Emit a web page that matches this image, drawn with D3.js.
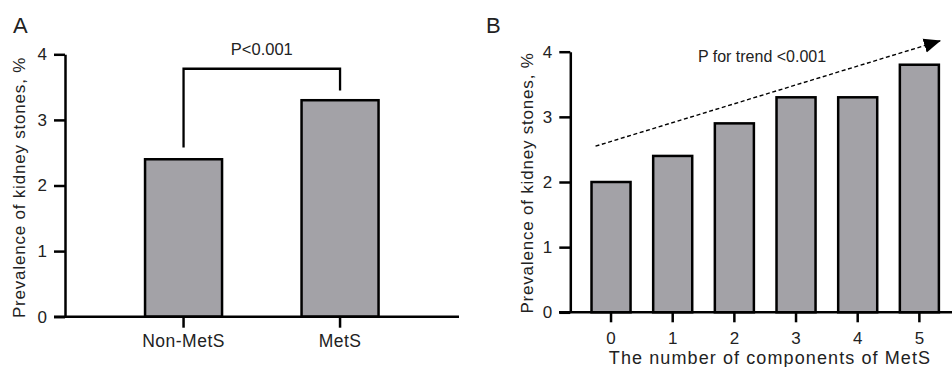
<!DOCTYPE html>
<html>
<head>
<meta charset="utf-8">
<script src="https://cdn.jsdelivr.net/npm/d3@7"></script>
<style>
  body { margin: 0; background: #fff; }
  svg text { font-family: "Liberation Sans", Arial, sans-serif; fill: #222; }
</style>
</head>
<body>
<svg id="chart" width="952" height="367"></svg>
<script>
// panel A
var groupsA = ["Non-MetS", "MetS"];
var valuesA = [2.4, 3.3];
// panel B
var groupsB = ["0", "1", "2", "3", "4", "5"];
var valuesB = [2.0, 2.4, 2.9, 3.3, 3.3, 3.8];
var yTicks = [0, 1, 2, 3, 4];

var yTitle = "Prevalence of kidney stones, %";
var xTitleB = "The number of components of MetS";
var pTextA = "P<0.001";
var pTextB = "P for trend <0.001";
// bracket heights (in % units)
var bracketA = { left: 2.58, right: 3.45, top: 3.78 };
// trend arrow (in % units)
var trendB = { from: 2.55, to: 4.17 };

var svg = d3.select("#chart");
var barFill = "#a3a2a7";
var lw = 2.5;

function styleAxis(g, size) {
  g.selectAll("path, line").attr("stroke", "#000").attr("stroke-width", lw);
  g.selectAll("text").style("font-size", size + "px").attr("fill", "#222")
    .style("font-family", "Liberation Sans, Arial, sans-serif");
}

// ---------- panel A ----------
var yA = d3.scaleLinear().domain([0, 4]).range([316.7, 54.3]);
var xA = d3.scaleBand().domain(groupsA).range([105.3, 418.3])
  .paddingInner(0.508).paddingOuter(0.254);

var gA = svg.append("g");

gA.selectAll("rect.bar")
  .data(valuesA)
  .enter().append("rect")
  .attr("class", "bar")
  .attr("x", function(d, i) { return xA(groupsA[i]); })
  .attr("y", function(d) { return yA(d); })
  .attr("width", xA.bandwidth())
  .attr("height", function(d) { return yA(0) - yA(d); })
  .attr("fill", barFill)
  .attr("stroke", "#000")
  .attr("stroke-width", lw);

var yAxisA = gA.append("g")
  .attr("transform", "translate(65,0)")
  .call(d3.axisLeft(yA).tickValues(yTicks).tickFormat(d3.format("d"))
    .tickSize(11).tickSizeOuter(0).tickPadding(7));
styleAxis(yAxisA, 17);

var xAxisA = gA.append("g")
  .attr("transform", "translate(0," + yA(0) + ")")
  .call(d3.axisBottom(xA).tickSize(11).tickSizeOuter(0).tickPadding(7));
xAxisA.select(".domain").remove();
styleAxis(xAxisA, 17.5);
xAxisA.selectAll("text").style("letter-spacing", "0.5px");

gA.append("line")
  .attr("x1", 54).attr("x2", 459)
  .attr("y1", yA(0)).attr("y2", yA(0))
  .attr("stroke", "#000").attr("stroke-width", lw);

// significance bracket
var cA = groupsA.map(function(g) { return xA(g) + xA.bandwidth() / 2; });
gA.append("path")
  .attr("d", "M" + cA[0] + "," + yA(bracketA.left) +
             "V" + yA(bracketA.top) +
             "H" + cA[1] +
             "V" + yA(bracketA.right))
  .attr("fill", "none").attr("stroke", "#000").attr("stroke-width", 2.3);

gA.append("text")
  .attr("x", (cA[0] + cA[1]) / 2).attr("y", 55)
  .attr("text-anchor", "middle")
  .style("font-size", "16.5px")
  .text(pTextA);

gA.append("text")
  .attr("transform", "translate(25,187.5) rotate(-90)")
  .attr("text-anchor", "middle")
  .style("font-size", "17px").style("letter-spacing", "0.8px")
  .text(yTitle);

gA.append("text")
  .attr("x", 13).attr("y", 33)
  .style("font-size", "22px")
  .text("A");

// ---------- panel B ----------
var yB = d3.scaleLinear().domain([0, 4]).range([312.3, 51.7]);
var xB = d3.scaleBand().domain(groupsB).range([580.2, 950.2])
  .paddingInner(0.367).paddingOuter(0.1835);

var gB = svg.append("g");

gB.selectAll("rect.bar")
  .data(valuesB)
  .enter().append("rect")
  .attr("class", "bar")
  .attr("x", function(d, i) { return xB(groupsB[i]); })
  .attr("y", function(d) { return yB(d); })
  .attr("width", xB.bandwidth())
  .attr("height", function(d) { return yB(0) - yB(d); })
  .attr("fill", barFill)
  .attr("stroke", "#000")
  .attr("stroke-width", lw);

var yAxisB = gB.append("g")
  .attr("transform", "translate(570.3,0)")
  .call(d3.axisLeft(yB).tickValues(yTicks).tickFormat(d3.format("d"))
    .tickSize(11).tickSizeOuter(0).tickPadding(7));
styleAxis(yAxisB, 17);

var xAxisB = gB.append("g")
  .attr("transform", "translate(0," + yB(0) + ")")
  .call(d3.axisBottom(xB).tickSize(10).tickSizeOuter(0).tickPadding(10));
xAxisB.select(".domain").remove();
styleAxis(xAxisB, 17);

gB.append("line")
  .attr("x1", 559).attr("x2", 952)
  .attr("y1", yB(0)).attr("y2", yB(0))
  .attr("stroke", "#000").attr("stroke-width", lw);

gB.append("text")
  .attr("x", 770).attr("y", 364)
  .attr("text-anchor", "middle")
  .style("font-size", "18px").style("letter-spacing", "1.1px")
  .text(xTitleB);

gB.append("text")
  .attr("transform", "translate(532.5,183) rotate(-90)")
  .attr("text-anchor", "middle")
  .style("font-size", "17px").style("letter-spacing", "0.8px")
  .text(yTitle);

gB.append("text")
  .attr("x", 486).attr("y", 33)
  .style("font-size", "22px")
  .text("B");

// trend arrow
var defs = svg.append("defs");
defs.append("marker")
  .attr("id", "arrow")
  .attr("viewBox", "0 0 10 10")
  .attr("refX", 10).attr("refY", 5)
  .attr("markerUnits", "userSpaceOnUse")
  .attr("markerWidth", 17).attr("markerHeight", 17)
  .attr("orient", "auto")
  .append("path")
  .attr("d", "M0,0.8L10,5L0,9.2Z")
  .attr("fill", "#000");

var tx0 = xB(groupsB[0]) + 4;
var tx1 = xB(groupsB[5]) + xB.bandwidth() + 2;
gB.append("line")
  .attr("x1", tx0).attr("y1", yB(trendB.from))
  .attr("x2", tx1).attr("y2", yB(trendB.to))
  .attr("stroke", "#000").attr("stroke-width", 1.4)
  .attr("stroke-dasharray", "4,2.6")
  .attr("marker-end", "url(#arrow)");

gB.append("text")
  .attr("x", 762).attr("y", 62)
  .attr("text-anchor", "middle")
  .style("font-size", "16px")
  .text(pTextB);
</script>
</body>
</html>
